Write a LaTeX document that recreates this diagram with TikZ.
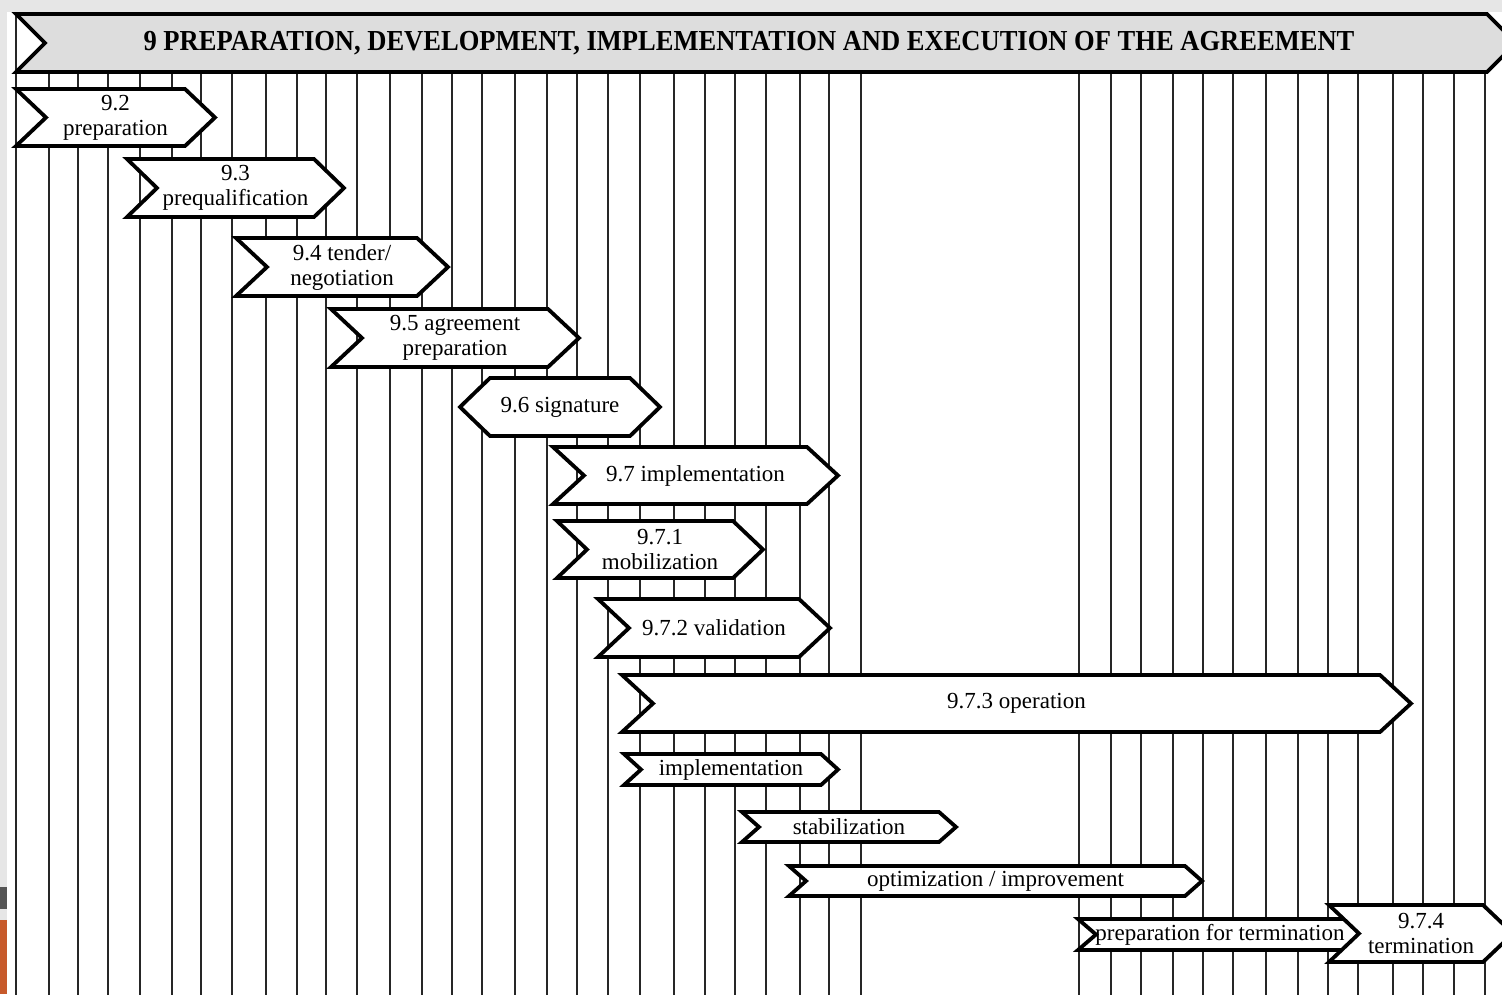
\documentclass[tikz,border=0pt]{standalone}
\usepackage{fontspec}
\setmainfont{Liberation Serif}
\definecolor{headgray}{HTML}{DDDDDD}
\definecolor{pagegray}{HTML}{E6E6E6}
\definecolor{tabdark}{HTML}{555555}
\definecolor{taborange}{HTML}{C75A2B}
% chevron: name, left x, top y, tip x, bottom y, edge depth, text
\newcommand\chevbox[7]{%
  \draw[shapeline] (#2,#3) -- ({#4-#6},#3) -- (#4,{(#3+#5)/2}) -- ({#4-#6},#5)
    -- (#2,#5) -- ({#2+#6},{(#3+#5)/2}) -- cycle;
  \node[lbl] (#1) at ({(#2+#4)/2},{(#3+#5)/2}) {#7};
}
\begin{document}
\begin{tikzpicture}[x=1pt,y=-1pt,
  shapeline/.style={draw=black, line width=3.8pt, fill=white, line join=miter},
  headshape/.style={shapeline, fill=headgray},
  lbl/.style={align=center, font=\fontsize{23}{25}\selectfont, inner sep=0pt},
  gridline/.style={draw=black!85, line width=2pt}]
\useasboundingbox (0,0) rectangle (1502,994);
\clip (0,0) rectangle (1502,994);
\fill[white] (0,0) rectangle (1502,994);
\fill[pagegray] (0,0) rectangle (1502,12);
\fill[pagegray] (0,0) rectangle (7,994);
\fill[tabdark] (0,887) rectangle (7,909);
\fill[taborange] (0,920) rectangle (7,994);

% time grid
\foreach \x in {15.5,48.5,78,108,140,172,201,232,266,296.5,326,357,389.5,422,452,482,515,547,577,608,640,674,705,735,766,800,829,861,
                1079,1111,1141,1173,1203,1233,1266,1298,1328,1358,1393,1423,1454,1484.5}
  \draw[gridline] (\x,14) -- (\x,1000);

% header band
\draw[headshape] (16,14) -- (1487,14) -- (1516,43) -- (1487,72) -- (16,72) -- (45,43) -- cycle;
\node[inner sep=0pt] (title) at (749,43)
  {\scalebox{0.915}[1]{\fontsize{29}{29}\selectfont\bfseries 9 PREPARATION, DEVELOPMENT, IMPLEMENTATION AND EXECUTION OF THE AGREEMENT}};

% phases
\chevbox{prep}{16}{89}{215}{146}{30}{9.2\\preparation}
\chevbox{preq}{127}{159}{344}{217}{30}{9.3\\prequalification}
\chevbox{tender}{236}{238}{448}{296}{31}{9.4 tender/\\negotiation}
\chevbox{agree}{331}{309}{579}{367}{31}{9.5 agreement\\preparation}

% signature (hexagon)
\draw[shapeline] (460,407) -- (490,378) -- (630,378) -- (660,407) -- (630,436) -- (490,436) -- cycle;
\node[lbl] (sign) at (560,407) {9.6 signature};

\chevbox{impl}{553}{447}{838}{504}{31}{9.7 implementation}
\chevbox{mob}{557}{521}{763}{578}{30}{9.7.1\\mobilization}
\chevbox{valid}{598}{599}{830}{657}{31}{9.7.2 validation}
\chevbox{oper}{622}{675}{1411}{732}{31}{9.7.3 operation}
\chevbox{opimpl}{624}{754}{838}{785}{17}{implementation}
\chevbox{stab}{742}{812}{956}{842}{17}{stabilization}
\chevbox{optim}{789}{866}{1202}{896}{17}{optimization / improvement}
\chevbox{prepterm}{1078}{919}{1362}{950}{18}{preparation for termination}
\chevbox{term}{1329}{905}{1513}{962}{30}{9.7.4\\termination}
\end{tikzpicture}
\end{document}
